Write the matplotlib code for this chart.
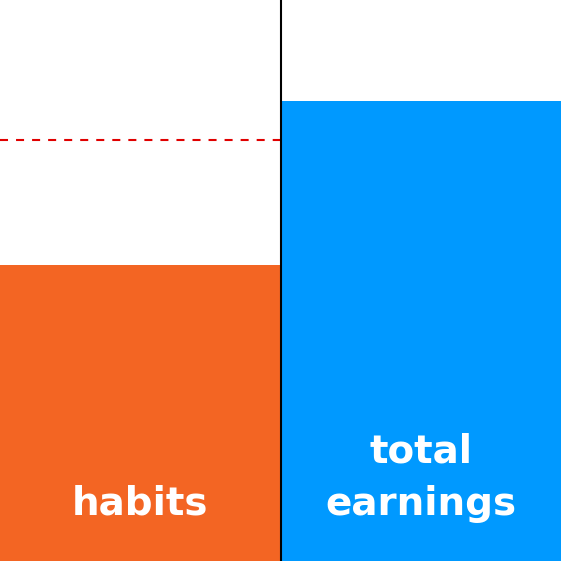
import matplotlib.pyplot as plt

# values (share of the full height, in %)
labels = ['habits', 'total earnings']
values = [52.8, 82.0]
colors = ['#F36523', '#0099FF']
target = 75.0

fig = plt.figure(figsize=(5.61, 5.61), dpi=100)
ax = fig.add_axes([0, 0, 1, 1])

xs = range(len(values))
ax.bar(xs, values, width=1.0, color=colors)

# target line over the first bar, divider between the bars
ax.hlines(target, -0.5, 0.5, colors='#E00000', linewidth=1.5,
          linestyles=(0, (3.85, 3.85)))
ax.axvline(0.5, color='black', linewidth=1.5)

style = dict(ha='center', va='baseline', color='white',
             fontsize=28, fontweight='bold', family='DejaVu Sans')
ax.text(0, 8.2, labels[0], **style)
first, second = labels[1].split(' ')
ax.text(1, 17.5, first, **style)
ax.text(1, 8.2, second, **style)

ax.set_xlim(-0.5, 1.5)
ax.set_ylim(0, 100)
ax.axis('off')

fig.savefig('out.png', dpi=100)
